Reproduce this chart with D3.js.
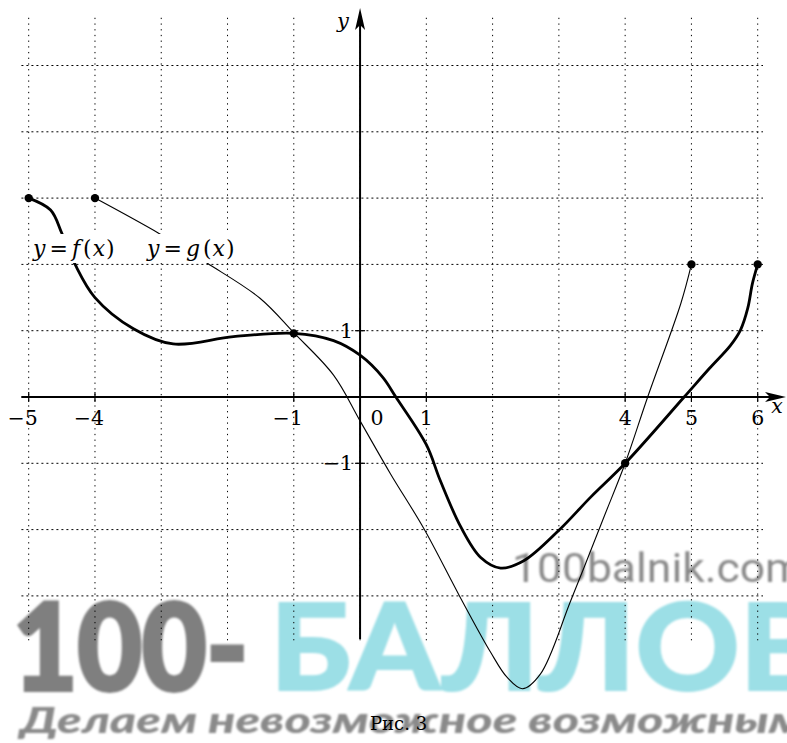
<!DOCTYPE html>
<html>
<head>
<meta charset="utf-8">
<script src="https://cdn.jsdelivr.net/npm/d3@7"></script>
<style>
    body { margin: 0; background: #fff; }
    svg { display: block; }
</style>
</head>
<body>
<svg id="chart" width="787" height="743"></svg>
<script>
// values (x, y in graph units)
const fPoints = [[-5, 3], [-4.67, 2.82], [-4.5, 2.47], [-4.3, 2.0], [-4.0, 1.5], [-3.42, 1.03], [-2.82, 0.8],
    [-1.91, 0.91], [-1, 0.96], [-0.4, 0.85], [0, 0.63], [0.34, 0.3], [0.54, 0], [1.0, -0.72], [1.21, -1.26],
    [1.52, -1.96], [1.82, -2.42], [2.12, -2.58], [2.47, -2.47], [3.0, -2.01], [3.48, -1.51], [4, -1],
    [4.89, 0], [5.27, 0.43], [5.59, 0.78], [5.74, 1.01], [5.85, 1.34], [5.92, 1.71], [6, 2]];
const gPoints = [[-4, 3], [-3.04, 2.47], [-2.31, 2.02], [-1.51, 1.49], [-1, 0.97], [-0.4, 0.33], [0, -0.36],
    [0.46, -1.16], [0.96, -1.98], [1.5, -3.0], [1.97, -3.85], [2.22, -4.23], [2.45, -4.4], [2.72, -4.18],
    [3.18, -3.07], [3.68, -1.81], [4, -1], [4.34, 0], [4.84, 1.41], [5, 2]];
const markedPoints = [[-5, 3], [-4, 3], [-1, 0.96], [4, -1], [5, 2], [6, 2]];
const gridX = [-5, -4, -3, -2, -1, 0, 1, 2, 3, 4, 5, 6];
const gridY = [-3, -2, -1, 0, 1, 2, 3, 4, 5];
const xTickValues = [-5, -4, -1, 1, 4, 5, 6];
const yTickValues = [1, -1];
const curveLabels = ["f", "g"];

const svg = d3.select("#chart");
const x = d3.scaleLinear().domain([-5, 6]).range([28.7, 757.7]);
const y = d3.scaleLinear().domain([-1, 1]).range([463.3, 330.7]);
const serif = "'DejaVu Serif', serif";

// watermark, sits under everything
const defs = svg.append("defs");
defs.append("filter").attr("id", "soft")
    .append("feGaussianBlur").attr("stdDeviation", 0.8);
const wm = svg.append("g").attr("filter", "url(#soft)");
wm.append("text").attr("x", 512).attr("y", 582)
    .attr("font-family", "Roboto, sans-serif").attr("font-size", 40)
    .attr("fill", "#8a8a8a").attr("textLength", 292).attr("lengthAdjust", "spacingAndGlyphs")
    .text("100balnik.com");
wm.append("text").attr("x", 13).attr("y", 690)
    .attr("font-family", "Lato, Inter, sans-serif").attr("font-size", 121).attr("font-weight", 900)
    .attr("fill", "#7f7f7f").attr("stroke", "#7f7f7f").attr("stroke-width", 4)
    .attr("textLength", 235).attr("lengthAdjust", "spacingAndGlyphs")
    .text("100-");
wm.append("text").attr("x", 270).attr("y", 690)
    .attr("font-family", "Lato, Inter, sans-serif").attr("font-size", 121).attr("font-weight", 900)
    .attr("fill", "#9cdfe6").attr("stroke", "#9cdfe6").attr("stroke-width", 2)
    .attr("textLength", 555).attr("lengthAdjust", "spacingAndGlyphs")
    .text("БАЛЛОВ");
wm.append("text").attr("x", 20).attr("y", 733)
    .attr("font-family", "Lato, Inter, sans-serif").attr("font-size", 37).attr("font-weight", 900)
    .attr("font-style", "italic").attr("fill", "#8a8a8a")
    .attr("textLength", 785).attr("lengthAdjust", "spacingAndGlyphs")
    .text("Делаем невозможное возможным");

// dotted grid
const grid = svg.append("g").attr("stroke", "#000").attr("stroke-width", 1);
grid.selectAll(".gx").data(gridX).enter().append("line")
    .attr("x1", d => x(d)).attr("x2", d => x(d))
    .attr("y1", y(5.72)).attr("y2", y(-3.67))
    .attr("stroke-dasharray", "1.3 4.4");
grid.selectAll(".gy").data(gridY).enter().append("line")
    .attr("x1", x(-5.11)).attr("x2", x(6.08))
    .attr("y1", d => y(d)).attr("y2", d => y(d))
    .attr("stroke-dasharray", "2 3");

// axes
const axes = svg.append("g").attr("stroke", "#000");
axes.append("line").attr("x1", x(-5.11)).attr("x2", 775)
    .attr("y1", y(0)).attr("y2", y(0)).attr("stroke-width", 2);
axes.append("line").attr("x1", x(0)).attr("x2", x(0))
    .attr("y1", 639).attr("y2", 20).attr("stroke-width", 2);
axes.append("path").attr("stroke", "none").attr("fill", "#000")
    .attr("d", `M786,${y(0)} L765,${y(0) - 5} L770,${y(0)} L765,${y(0) + 5} Z`);
axes.append("path").attr("stroke", "none").attr("fill", "#000")
    .attr("d", `M${x(0)},8 L${x(0) - 5},30 L${x(0)},25 L${x(0) + 5},30 Z`);

axes.selectAll(".tx").data(xTickValues).enter().append("line")
    .attr("x1", d => x(d)).attr("x2", d => x(d))
    .attr("y1", y(0) - 5).attr("y2", y(0) + 5).attr("stroke-width", 1.2);
axes.selectAll(".ty").data(yTickValues).enter().append("line")
    .attr("x1", x(0) - 5).attr("x2", x(0) + 5)
    .attr("y1", d => y(d)).attr("y2", d => y(d)).attr("stroke-width", 1.2);

const fmt = d => d < 0 ? "\u2212" + Math.abs(d) : String(d);
const labels = svg.append("g").attr("font-family", serif).attr("font-size", 20.5).attr("fill", "#000");
labels.selectAll(".lx").data(xTickValues).enter().append("text")
    .attr("x", d => d < 0 ? x(d) + 9 : x(d))
    .attr("y", y(0) + 28)
    .attr("text-anchor", d => d < 0 ? "end" : "middle")
    .text(fmt);
labels.selectAll(".ly").data(yTickValues).enter().append("text")
    .attr("x", x(0) - 7)
    .attr("y", d => y(d) + 7)
    .attr("text-anchor", "end")
    .text(fmt);
labels.append("text").attr("x", x(0) + 17).attr("y", y(0) + 28)
    .attr("text-anchor", "middle").text("0");
labels.append("text").attr("x", 777).attr("y", 413).attr("text-anchor", "middle")
    .attr("font-style", "italic").text("x");
labels.append("text").attr("x", 343).attr("y", 28).attr("text-anchor", "middle")
    .attr("font-style", "italic").attr("font-size", 21).text("y");

// curves
const line = d3.line().x(d => x(d[0])).y(d => y(d[1])).curve(d3.curveCatmullRom.alpha(0.5));
svg.append("path").datum(gPoints).attr("d", line)
    .attr("fill", "none").attr("stroke", "#000").attr("stroke-width", 1.1);
svg.append("path").datum(fPoints).attr("d", line)
    .attr("fill", "none").attr("stroke", "#000").attr("stroke-width", 2.8);

svg.selectAll(".pt").data(markedPoints).enter().append("circle")
    .attr("cx", d => x(d[0])).attr("cy", d => y(d[1])).attr("r", 4.2).attr("fill", "#000");

// curve names, on white patches that cut the curves
const nameX = [33, 147];
curveLabels.forEach((n, i) => {
    svg.append("rect").attr("x", nameX[i] - 3).attr("y", 234)
        .attr("width", 92).attr("height", 29).attr("fill", "#fff");
    const t = svg.append("text").attr("x", nameX[i]).attr("y", 256)
        .attr("font-family", serif).attr("font-size", 22);
    t.append("tspan").attr("font-style", "italic").text("y");
    t.append("tspan").attr("dx", 4).text("=");
    t.append("tspan").attr("dx", 4).attr("font-style", "italic").text(n);
    t.append("tspan").attr("dx", 3).text("(");
    t.append("tspan").attr("dx", 1).attr("font-style", "italic").text("x");
    t.append("tspan").attr("dx", 1).text(")");
});

svg.append("text").attr("x", 370).attr("y", 730)
    .attr("font-family", serif).attr("font-size", 18).text("Рис. 3");
</script>
</body>
</html>
